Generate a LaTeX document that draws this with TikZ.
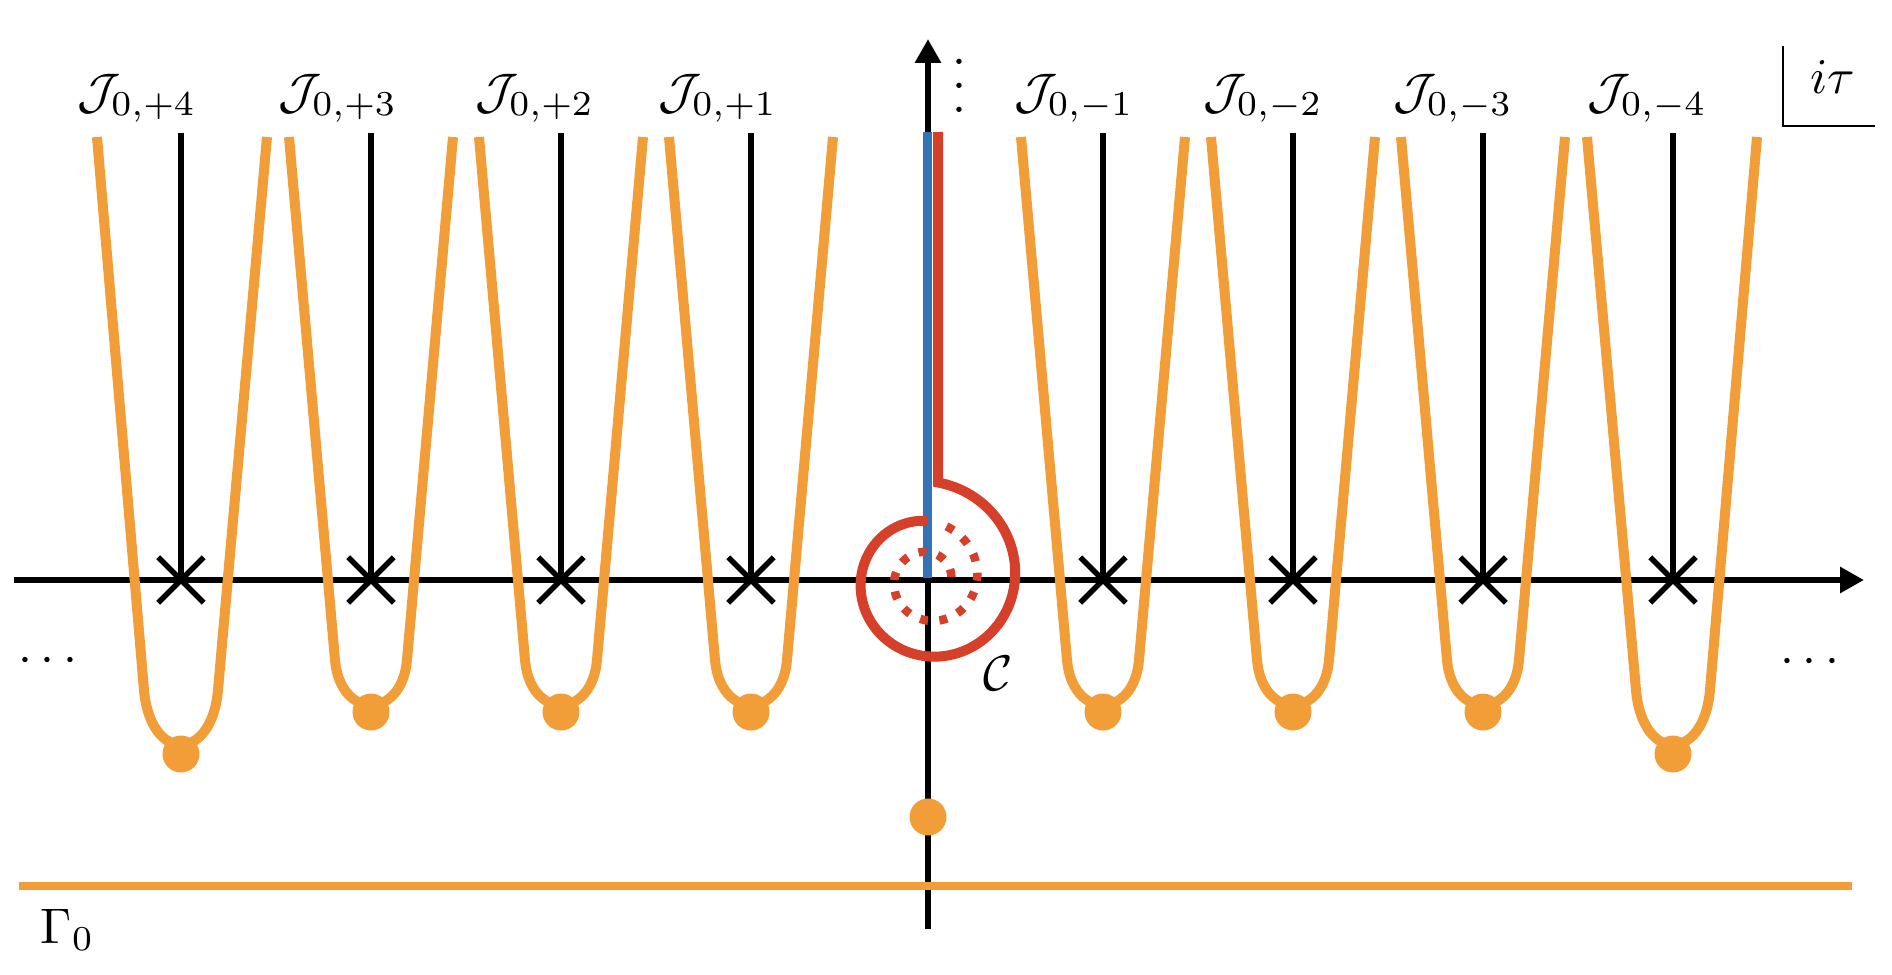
\documentclass[tikz,border=0pt]{standalone}
\usepackage{tikz}
\usepackage{xcolor}
\usetikzlibrary{arrows.meta,shapes.misc}

\definecolor{thimbleorange}{RGB}{241,157,56}
\definecolor{spiralcolor}{RGB}{214,64,42}
\definecolor{cutblue}{RGB}{52,116,182}
\newcommand{\tallvdots}{\vbox{\baselineskip4.8pt\lineskiplimit0pt\hbox{.}\hbox{.}\hbox{.}}}

\begin{document}
\begin{tikzpicture}[x=0.2pt,y=0.2pt,
  axisline/.style={line width=1.3pt,-{Triangle[length=4.8pt,width=5pt]}},
  poleline/.style={line width=1.35pt},
  pole/.style={cross out,draw,line width=1.1pt,minimum size=8pt,inner sep=0pt},
  thimble/.style={draw=thimbleorange,line width=2pt},
  saddle/.style={circle,fill=thimbleorange,minimum size=7.4pt,inner sep=0pt},
  spiralred/.style={draw=spiralcolor,line width=2pt},
  mathtag/.style={inner sep=0pt}]
\useasboundingbox (-928,-394) rectangle (964,580);

% Axes
\coordinate (xl) at (-914,0);
\coordinate (xr) at (936,0);
\coordinate (yb) at (0,-349);
\coordinate (yt) at (0,541);
\draw[axisline] (xl) -- (xr);
\draw[axisline] (yb) -- (yt);

% Branch cut
\coordinate (cuttop) at (-0.5,448);
\coordinate (cutend) at (-0.5,2);
\draw[cutblue,line width=1.9pt] (cuttop) -- (cutend);

% Poles with their lines
\node[pole] (p4) at (-747,0) {};
\node[pole] (p3) at (-557,0) {};
\node[pole] (p2) at (-367,0) {};
\node[pole] (p1) at (-177,0) {};
\node[pole] (m1) at (175,0) {};
\node[pole] (m2) at (365,0) {};
\node[pole] (m3) at (555,0) {};
\node[pole] (m4) at (745,0) {};
\coordinate (p4top) at (-747,447);
\coordinate (p3top) at (-557,447);
\coordinate (p2top) at (-367,447);
\coordinate (p1top) at (-177,447);
\coordinate (m1top) at (175,447);
\coordinate (m2top) at (365,447);
\coordinate (m3top) at (555,447);
\coordinate (m4top) at (745,447);
\draw[poleline] (p4.center) -- (p4top);
\draw[poleline] (p3.center) -- (p3top);
\draw[poleline] (p2.center) -- (p2top);
\draw[poleline] (p1.center) -- (p1top);
\draw[poleline] (m1.center) -- (m1top);
\draw[poleline] (m2.center) -- (m2top);
\draw[poleline] (m3.center) -- (m3top);
\draw[poleline] (m4.center) -- (m4top);

% Thimbles
\draw[thimble,shift={(-747,0)}] (-84,443) -- (-37,-110) .. controls (-30.6,-183) and (30.6,-183) .. (37,-110) -- (86,443);
\draw[thimble,shift={(-557,0)}] (-82,443) -- (-36,-80) .. controls (-30.7,-140) and (30.7,-140) .. (36,-80) -- (82,443);
\draw[thimble,shift={(-367,0)}] (-82,443) -- (-36,-80) .. controls (-30.7,-140) and (30.7,-140) .. (36,-80) -- (82,443);
\draw[thimble,shift={(-177,0)}] (-82,443) -- (-36,-80) .. controls (-30.7,-140) and (30.7,-140) .. (36,-80) -- (82,443);
\draw[thimble,shift={(175,0)}] (-82,443) -- (-36,-80) .. controls (-30.7,-140) and (30.7,-140) .. (36,-80) -- (82,443);
\draw[thimble,shift={(365,0)}] (-82,443) -- (-36,-80) .. controls (-30.7,-140) and (30.7,-140) .. (36,-80) -- (82,443);
\draw[thimble,shift={(555,0)}] (-82,443) -- (-36,-80) .. controls (-30.7,-140) and (30.7,-140) .. (36,-80) -- (82,443);
\draw[thimble,shift={(745,0)}] (-86,443) -- (-37,-110) .. controls (-30.6,-183) and (30.6,-183) .. (37,-110) -- (84,443);

% Saddle points
\node[saddle] (s4) at (-747,-174) {};
\node[saddle] (s3) at (-557,-132) {};
\node[saddle] (s2) at (-367,-132) {};
\node[saddle] (s1) at (-177,-132) {};
\node[saddle] (t1) at (175,-132) {};
\node[saddle] (t2) at (365,-132) {};
\node[saddle] (t3) at (555,-132) {};
\node[saddle] (t4) at (745,-174) {};
\node[saddle] (s0) at (0,-237) {};

% Gamma_0
\coordinate (g0l) at (-909,-306);
\coordinate (g0r) at (924,-306);
\draw[thimble,line width=1.7pt] (g0l) -- (g0r);

% Contour C
\coordinate (spiraltop) at (10.2,448);
\draw[spiralred] (spiraltop) -- plot[domain=84:-270,samples=140,variable=\t]
  ({98*exp(-0.082*(84-(\t))/57.2958)*cos(\t)},{98*exp(-0.082*(84-(\t))/57.2958)*sin(\t)});
\draw[spiralred,line width=1.7pt,dash pattern=on 1.6pt off 2.3pt] plot[domain=-289:-724,samples=160,variable=\t]
  ({59*exp(-0.119*(-270-(\t))/57.2958)*cos(\t)},{59*exp(-0.119*(-270-(\t))/57.2958)*sin(\t)});

% Labels
\node[mathtag,anchor=base] (j4) at (-791,472) {$\mathcal{J}_{0,+4}$};
\node[mathtag,anchor=base] (j3) at (-590,472) {$\mathcal{J}_{0,+3}$};
\node[mathtag,anchor=base] (j2) at (-393,472) {$\mathcal{J}_{0,+2}$};
\node[mathtag,anchor=base] (j1) at (-210,472) {$\mathcal{J}_{0,+1}$};
\node[mathtag,anchor=base] (k1) at (146,472) {$\mathcal{J}_{0,-1}$};
\node[mathtag,anchor=base] (k2) at (335,472) {$\mathcal{J}_{0,-2}$};
\node[mathtag,anchor=base] (k3) at (525,472) {$\mathcal{J}_{0,-3}$};
\node[mathtag,anchor=base] (k4) at (719,472) {$\mathcal{J}_{0,-4}$};
\node[mathtag] (clabel) at (70,-93) {$\mathcal{C}$};
\node[mathtag,anchor=base west] (gamma0) at (-888,-363) {$\Gamma_0$};
\node[mathtag,anchor=base] (ldots) at (-880,-92) {$\cdots$};
\node[mathtag,anchor=base] (rdots) at (882,-93) {$\cdots$};
\node[mathtag,anchor=base] (vdots) at (31,468) {\tallvdots};

% i tau frame
\coordinate (framet) at (855,534);
\coordinate (framec) at (855,454);
\coordinate (framer) at (947,454);
\draw[line width=0.55pt] (framet) -- (framec) -- (framer);
\node[mathtag,anchor=base] (itau) at (905,486) {$i\tau$};
\end{tikzpicture}
\end{document}
